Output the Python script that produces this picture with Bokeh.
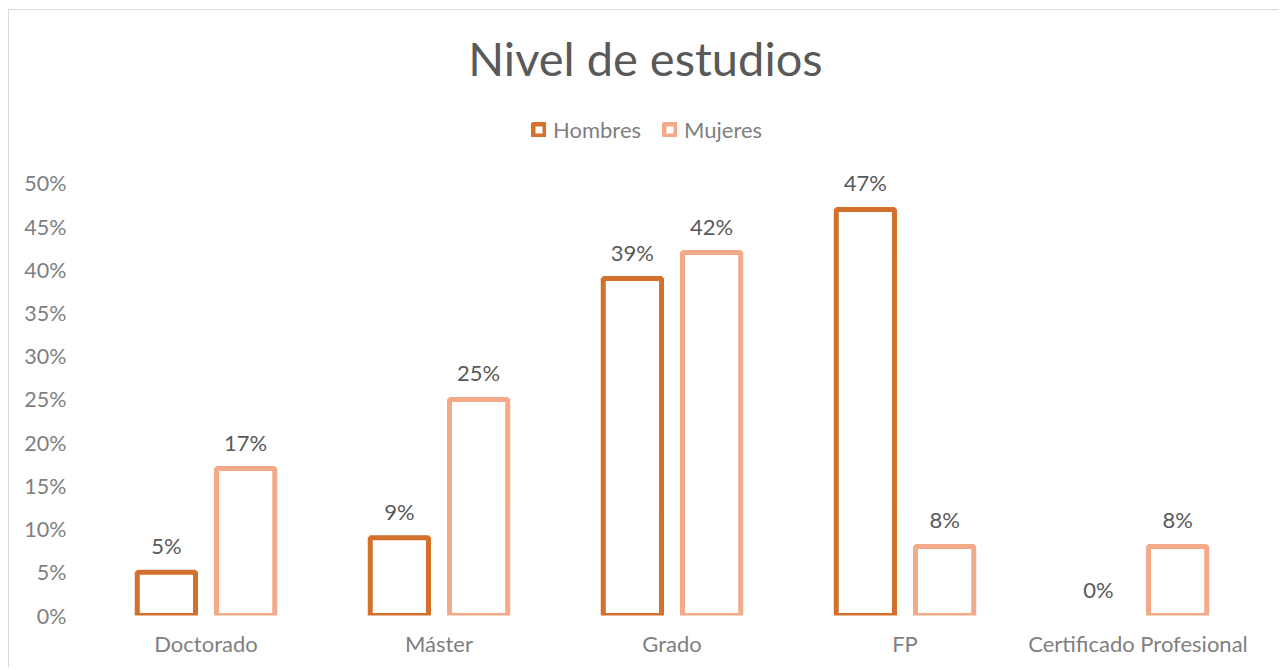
from bokeh.plotting import figure
from bokeh.models import (ColumnDataSource, Range1d, FactorRange, FixedTicker,
                          PrintfTickFormatter, Legend, LegendItem, Label,
                          CDSView, BooleanFilter)
from bokeh.transform import dodge
from bokeh.core.properties import value
from bokeh.embed import file_html
from bokeh.resources import INLINE

categories = ["Doctorado", "Máster", "Grado", "FP", "Certificado Profesional"]
hombres = [5, 9, 39, 47, 0]
mujeres = [17, 25, 42, 8, 8]
y_ticks = [0, 5, 10, 15, 20, 25, 30, 35, 40, 45, 50]

FONT = "Lato"
C_H = "#D3702C"
C_M = "#F2AA89"

src = ColumnDataSource(dict(
    cat=categories, h=hombres, m=mujeres,
    hl=[f"{v}%" for v in hombres], ml=[f"{v}%" for v in mujeres],
))

p = figure(width=1270, height=658, output_backend="svg", toolbar_location=None,
           x_range=FactorRange(*categories, range_padding=0),
           y_range=Range1d(0, 70.02),
           min_border_left=80, min_border_right=25, min_border_top=0, min_border_bottom=53)

view_h = CDSView(filter=BooleanFilter([v > 0 for v in hombres]))
view_m = CDSView(filter=BooleanFilter([v > 0 for v in mujeres]))

rh = p.vbar(x=dodge("cat", -0.17, range=p.x_range), top="h", width=0.25, source=src,
            view=view_h, fill_color="white", line_color=C_H, line_width=5)
rm = p.vbar(x=dodge("cat", 0.17, range=p.x_range), top="m", width=0.25, source=src,
            view=view_m, fill_color="white", line_color=C_M, line_width=5)

for col, lab, off in (("h", "hl", -0.17), ("m", "ml", 0.17)):
    p.text(x=dodge("cat", off, range=p.x_range), y=col, text=lab, source=src,
           text_align="center", text_baseline="bottom", y_offset=-13,
           text_font=value(FONT), text_font_size="22px", text_color="#595959")

p.grid.visible = False
p.outline_line_color = None

p.yaxis.ticker = FixedTicker(ticks=y_ticks)
p.yaxis.formatter = PrintfTickFormatter(format="%d%%")
p.yaxis.axis_line_color = None
p.yaxis.major_tick_line_color = None
p.yaxis.minor_tick_line_color = None
p.yaxis.major_tick_out = 0
p.yaxis.major_label_standoff = 23
p.yaxis.major_label_text_font = FONT
p.yaxis.major_label_text_font_size = "21.5px"
p.yaxis.major_label_text_color = "#7F7F7F"

p.xaxis.axis_line_color = None
p.xaxis.major_tick_line_color = None
p.xaxis.major_tick_out = 0
p.xaxis.major_label_standoff = 14
p.xaxis.major_label_text_font = FONT
p.xaxis.major_label_text_font_size = "22px"
p.xaxis.major_label_text_color = "#7F7F7F"

title = Label(x=556, y=558, x_units="screen", y_units="screen",
              text="Nivel de estudios", text_align="center", text_baseline="middle",
              text_font=FONT, text_font_size="47px", text_color="#595959")
p.add_layout(title)

legend = Legend(items=[LegendItem(label="Hombres", renderers=[rh]),
                       LegendItem(label="Mujeres", renderers=[rm])],
                orientation="horizontal", location=(442, 472),
                glyph_width=15, glyph_height=15, label_height=20,
                label_standoff=7, spacing=21, padding=0, margin=0,
                label_text_font=FONT, label_text_font_size="22px",
                label_text_color="#7F7F7F",
                background_fill_alpha=0, border_line_color=None)
p.add_layout(legend)

p.styles = {"margin-left": "8px", "margin-top": "9px",
            "border-left": "1px solid #D9D9D9", "border-top": "1px solid #D9D9D9"}

open("out.html", "w").write(file_html(p, INLINE))
